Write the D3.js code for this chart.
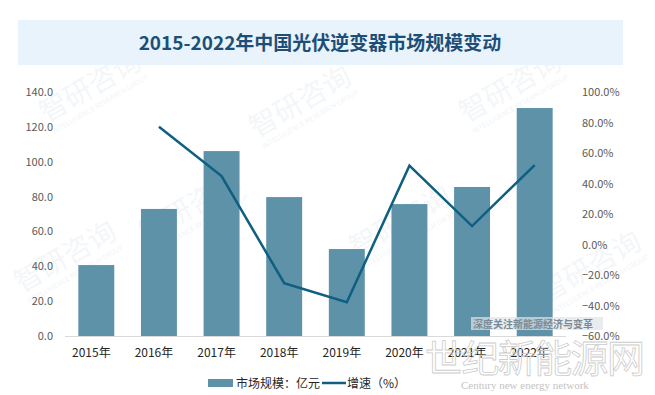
<!DOCTYPE html>
<html>
<head>
<meta charset="utf-8">
<script src="https://cdn.jsdelivr.net/npm/d3@7"></script>
<style>
  body { margin: 0; background: #fff; }
  svg text { font-family: "Noto Sans CJK SC", "Liberation Sans", sans-serif; }
  svg text.serif { font-family: "Liberation Serif", serif; }
</style>
</head>
<body>
<div id="chart"></div>
<script>
// 数据
const years = ['2015年', '2016年', '2017年', '2018年', '2019年', '2020年', '2021年', '2022年'];
const marketSize = [40.7, 72.9, 106.1, 79.7, 49.9, 75.7, 85.5, 130.8]; // 亿元
const growth = [null, 77.2, 44.9, -25.4, -37.9, 51.7, 12.1, 52.1]; // %
const leftTicks = [0, 20, 40, 60, 80, 100, 120, 140];
const rightTicks = [-60, -40, -20, 0, 20, 40, 60, 80, 100];

const width = 655;
const height = 395;
const plotLeft = 65;
const plotRight = 566;
const plotTop = 92;
const plotBottom = 336;
const barColor = '#5e92a8';
const lineColor = '#0e5f80';

const svg = d3.select('#chart').append('svg')
    .attr('width', width)
    .attr('height', height);

// 水印
const wm = svg.append('g').attr('class', 'watermark');
const wmPos = [[95, 95], [195, 215], [305, 110], [405, 230], [515, 95], [595, 275], [70, 265]];
wmPos.forEach(([x, y]) => {
    const g = wm.append('g').attr('transform', `translate(${x},${y}) rotate(-30)`);
    g.append('text')
        .attr('text-anchor', 'middle')
        .attr('font-size', 28)
        .attr('fill', '#2a6a9a')
        .attr('opacity', 0.05)
        .text('智研咨询');
    g.append('text')
        .attr('text-anchor', 'middle')
        .attr('y', 13)
        .attr('font-size', 7)
        .attr('fill', '#2a6a9a')
        .attr('opacity', 0.07)
        .text('INTELLIGENCE RESEARCH GROUP');
});

// 标题
svg.append('rect')
    .attr('x', 18)
    .attr('y', 20)
    .attr('width', 605)
    .attr('height', 45)
    .attr('fill', '#e8f3fc');
svg.append('text')
    .attr('x', 320)
    .attr('y', 50)
    .attr('text-anchor', 'middle')
    .attr('font-size', 19)
    .attr('font-weight', 'bold')
    .attr('fill', '#1d4f76')
    .text('2015-2022年中国光伏逆变器市场规模变动');

// 比例尺
const xScale = d3.scaleBand()
    .domain(years)
    .range([plotLeft, plotRight])
    .paddingInner(0.426)
    .paddingOuter(0.213);
const yLeft = d3.scaleLinear().domain([0, 140]).range([plotBottom, plotTop]);
const yRight = d3.scaleLinear().domain([-60, 100]).range([plotBottom, plotTop]);

// 坐标轴
const leftAxis = d3.axisLeft(yLeft)
    .tickValues(leftTicks)
    .tickSize(0)
    .tickPadding(0)
    .tickFormat(d3.format('.1f'));
svg.append('g')
    .attr('class', 'y-left')
    .attr('transform', 'translate(53,0)')
    .call(leftAxis)
    .call((g) => g.select('.domain').remove())
    .selectAll('text')
    .attr('font-size', 11)
    .attr('fill', '#595959');

const rightAxis = d3.axisRight(yRight)
    .tickValues(rightTicks)
    .tickSize(0)
    .tickPadding(0)
    .tickFormat((d) => d3.format('.1f')(d) + '%');
svg.append('g')
    .attr('class', 'y-right')
    .attr('transform', 'translate(582,0)')
    .call(rightAxis)
    .call((g) => g.select('.domain').remove())
    .selectAll('text')
    .attr('font-size', 11)
    .attr('fill', '#595959');

const xAxis = d3.axisBottom(xScale).tickSize(0).tickPadding(12);
svg.append('g')
    .attr('class', 'x-axis')
    .attr('transform', `translate(-5,${plotBottom})`)
    .call(xAxis)
    .call((g) => g.select('.domain').remove())
    .selectAll('text')
    .attr('font-size', 12)
    .attr('fill', '#262626');

// 柱子
svg.append('g')
    .selectAll('rect')
    .data(marketSize)
    .join('rect')
    .attr('x', (d, i) => xScale(years[i]))
    .attr('y', (d) => yLeft(d))
    .attr('width', xScale.bandwidth())
    .attr('height', (d) => yLeft(0) - yLeft(d))
    .attr('fill', barColor);

// 基线
svg.append('line')
    .attr('x1', plotLeft)
    .attr('x2', plotRight)
    .attr('y1', plotBottom + 0.5)
    .attr('y2', plotBottom + 0.5)
    .attr('stroke', '#d9d9d9');

// 折线
const linePath = d3.line()
    .defined((d) => d !== null)
    .x((d, i) => xScale(years[i]) + xScale.bandwidth() / 2)
    .y((d) => yRight(d));
svg.append('path')
    .attr('d', linePath(growth))
    .attr('fill', 'none')
    .attr('stroke', lineColor)
    .attr('stroke-width', 2.5);

// 右下角水印
const wm2 = svg.append('g');
wm2.append('rect')
    .attr('x', 471).attr('y', 317).attr('width', 132).attr('height', 13)
    .attr('fill', '#e0e4e8').attr('opacity', 0.7);
wm2.append('text')
    .attr('x', 473).attr('y', 327.5)
    .attr('font-size', 10).attr('fill', '#7a8a96').attr('font-weight', 'bold')
    .text('深度关注新能源经济与变革');
wm2.append('text')
    .attr('x', 425).attr('y', 372)
    .attr('font-size', 38).attr('fill', 'none')
    .attr('stroke', '#cccccc').attr('stroke-width', 0.8)
    .attr('textLength', 220)
    .text('世纪新能源网');
wm2.append('text')
    .attr('class', 'serif')
    .attr('x', 461).attr('y', 389)
    .attr('font-size', 11).attr('fill', '#c4c4c4')
    .text('Century new energy network');

// 图例
const legend = svg.append('g').attr('transform', 'translate(0,383)');
legend.append('rect')
    .attr('x', 208).attr('y', -4).attr('width', 25).attr('height', 8)
    .attr('fill', barColor);
legend.append('text')
    .attr('x', 236).attr('y', 4.5)
    .attr('font-size', 12).attr('fill', '#262626')
    .text('市场规模：亿元');
legend.append('line')
    .attr('x1', 322).attr('x2', 346).attr('y1', 0).attr('y2', 0)
    .attr('stroke', lineColor).attr('stroke-width', 2.5);
legend.append('text')
    .attr('x', 347).attr('y', 4.5)
    .attr('font-size', 12).attr('fill', '#262626')
    .text('增速（%）');
</script>
</body>
</html>
